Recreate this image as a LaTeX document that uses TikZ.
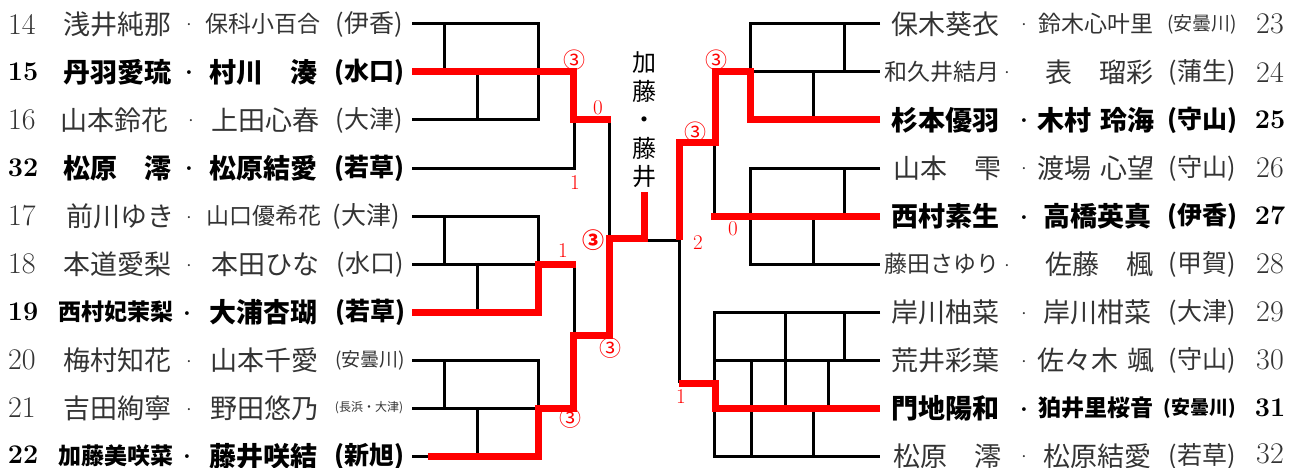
\documentclass[tikz,border=0pt]{standalone}
\usepackage{fontspec}
\usepackage{xcolor}
\usepackage{tikz}
\usetikzlibrary{positioning}
\newfontfamily\jp{Noto Sans CJK JP}

\begin{document}
\begin{tikzpicture}[
    x=1pt, y=-1pt,
    bline/.style={line width=3pt, black, line join=miter},
    rline/.style={line width=7pt, red, line join=miter},
    num/.style={font=\fontsize{30}{30}\selectfont, inner sep=0pt},
    numb/.style={font=\fontsize{27}{27}\selectfont\bfseries, inner sep=0pt},
    sep/.style={font=\fontsize{26}{26}\selectfont, inner sep=0pt, anchor=base, yshift=-10pt},
    nmA/.style={font=\jp\fontsize{27}{27}\selectfont, inner sep=0pt},
    nmB/.style={font=\jp\fontsize{23}{23}\selectfont, inner sep=0pt},
    sch/.style={font=\jp\fontsize{25}{25}\selectfont, inner sep=0pt},
    schs/.style={font=\jp\fontsize{19}{19}\selectfont, inner sep=0pt},
    scht/.style={font=\jp\fontsize{12}{12}\selectfont, inner sep=0pt},
    reg/.style={text=black!80},
    strong/.style={text=black, execute at begin node=\bfseries},
    score/.style={font=\fontsize{21}{21}\selectfont, text=red, inner sep=0pt},
    circ/.style={font=\jp\fontsize{22}{22}\selectfont, text=red, inner sep=0pt}
]
    \useasboundingbox (0,0) rectangle (1301,468);

    % left entries
    \node[num,reg] (n14) at (22,24) {14};
    \node[nmA,reg] (a14) at (117,24) {浅井純那};
    \node[sep,reg] (d14) at (189,24) {·};
    \node[nmB,reg] (b14) at (263,24) {保科小百合};
    \node[sch,reg] (s14) at (369,24) {(伊香)};

    \node[numb] (n15) at (23,72) {15};
    \node[nmA,strong] (a15) at (117,72) {丹羽愛琉};
    \node[sep,strong] (d15) at (189,72) {·};
    \node[nmA,strong] (b15) at (263,72) {村川　湊};
    \node[sch,strong] (s15) at (369,72) {(水口)};

    \node[num,reg] (n16) at (22,120) {16};
    \node[nmA,reg] (a16) at (114,120) {山本鈴花};
    \node[sep,reg] (d16) at (191,120) {·};
    \node[nmA,reg] (b16) at (265,120) {上田心春};
    \node[sch,reg] (s16) at (369,120) {(大津)};

    \node[numb] (n32) at (23,168) {32};
    \node[nmA,strong] (a32) at (117,168) {松原　澪};
    \node[sep,strong] (d32) at (189,168) {·};
    \node[nmA,strong] (b32) at (263,168) {松原結愛};
    \node[sch,strong] (s32) at (369,168) {(若草)};

    \node[num,reg] (n17) at (22,216) {17};
    \node[nmA,reg] (a17) at (120,216) {前川ゆき};
    \node[sep,reg] (d17) at (189,216) {·};
    \node[nmB,reg] (b17) at (264,216) {山口優希花};
    \node[sch,reg] (s17) at (366,216) {(大津)};

    \node[num,reg] (n18) at (22,264) {18};
    \node[nmA,reg] (a18) at (117,264) {本道愛梨};
    \node[sep,reg] (d18) at (189,264) {·};
    \node[nmA,reg] (b18) at (265,264) {本田ひな};
    \node[sch,reg] (s18) at (370,264) {(水口)};

    \node[numb] (n19) at (23,312) {19};
    \node[nmB,strong] (a19) at (116,312) {西村妃茉梨};
    \node[sep,strong] (d19) at (187,312) {·};
    \node[nmA,strong] (b19) at (263,312) {大浦杏瑚};
    \node[sch,strong] (s19) at (370,312) {(若草)};

    \node[num,reg] (n20) at (22,360) {20};
    \node[nmA,reg] (a20) at (117,360) {梅村知花};
    \node[sep,reg] (d20) at (189,360) {·};
    \node[nmA,reg] (b20) at (264,360) {山本千愛};
    \node[schs,reg] (s20) at (370,360) {(安曇川)};

    \node[num,reg] (n21) at (22,408) {21};
    \node[nmA,reg] (a21) at (117,408) {吉田絢寧};
    \node[sep,reg] (d21) at (189,408) {·};
    \node[nmA,reg] (b21) at (264,408) {野田悠乃};
    \node[scht,reg] (s21) at (369,408) {(長浜・大津)};

    \node[numb] (n22) at (23,455) {22};
    \node[nmB,strong] (a22) at (116,456) {加藤美咲菜};
    \node[sep,strong] (d22) at (187,455) {·};
    \node[nmA,strong] (b22) at (263,456) {藤井咲結};
    \node[sch,strong] (s22) at (369,456) {(新旭)};

    % right entries
    \node[nmA,reg] (a23) at (945,24) {保木葵衣};
    \node[sep,reg] (d23) at (1024,24) {·};
    \node[nmB,reg] (b23) at (1096,24) {鈴木心叶里};
    \node[schs,reg] (s23) at (1202,24) {(安曇川)};
    \node[num,reg] (n23) at (1270,24) {23};

    \node[nmB,reg] (a24) at (942,72) {和久井結月};
    \node[sep,reg] (d24) at (1007,72) {·};
    \node[nmA,reg] (b24) at (1099,72) {表　瑠彩};
    \node[sch,reg] (s24) at (1202,72) {(蒲生)};
    \node[num,reg] (n24) at (1270,72) {24};

    \node[nmA,strong] (a25) at (945,120) {杉本優羽};
    \node[sep,strong] (d25) at (1024,120) {·};
    \node[nmA,strong] (b25) at (1096,120) {木村\hspace{0.3em}玲海};
    \node[sch,strong] (s25) at (1202,120) {(守山)};
    \node[numb] (n25) at (1270,120) {25};

    \node[nmA,reg] (a26) at (947,168) {山本　雫};
    \node[sep,reg] (d26) at (1024,168) {·};
    \node[nmA,reg] (b26) at (1096,168) {渡場\hspace{0.3em}心望};
    \node[sch,reg] (s26) at (1202,168) {(守山)};
    \node[num,reg] (n26) at (1270,168) {26};

    \node[nmA,strong] (a27) at (945,216) {西村素生};
    \node[sep,strong] (d27) at (1024,216) {·};
    \node[nmA,strong] (b27) at (1097,216) {高橋英真};
    \node[sch,strong] (s27) at (1202,216) {(伊香)};
    \node[numb] (n27) at (1270,216) {27};

    \node[nmB,reg] (a28) at (942,264) {藤田さゆり};
    \node[sep,reg] (d28) at (1007,264) {·};
    \node[nmA,reg] (b28) at (1099,264) {佐藤　楓};
    \node[sch,reg] (s28) at (1202,264) {(甲賀)};
    \node[num,reg] (n28) at (1270,264) {28};

    \node[nmA,reg] (a29) at (945,312) {岸川柚菜};
    \node[sep,reg] (d29) at (1024,312) {·};
    \node[nmA,reg] (b29) at (1097,312) {岸川柑菜};
    \node[sch,reg] (s29) at (1202,312) {(大津)};
    \node[num,reg] (n29) at (1270,312) {29};

    \node[nmA,reg] (a30) at (945,360) {荒井彩葉};
    \node[sep,reg] (d30) at (1024,360) {·};
    \node[nmA,reg] (b30) at (1096,360) {佐々木\hspace{0.3em}颯};
    \node[sch,reg] (s30) at (1202,360) {(守山)};
    \node[num,reg] (n30) at (1270,360) {30};

    \node[nmA,strong] (a31) at (945,408) {門地陽和};
    \node[sep,strong] (d31) at (1024,408) {·};
    \node[nmB,strong] (b31) at (1096,408) {狛井里桜音};
    \node[schs,strong] (s31) at (1200,408) {(安曇川)};
    \node[numb] (n31) at (1270,408) {31};

    \node[nmA,reg] (a32r) at (947,456) {松原　澪};
    \node[sep,reg] (d32r) at (1024,455) {·};
    \node[nmA,reg] (b32r) at (1097,456) {松原結愛};
    \node[sch,reg] (s32r) at (1202,456) {(若草)};
    \node[num,reg] (n32r) at (1270,454) {32};

    % centre
    \node[font=\jp\fontsize{24}{28.5}\selectfont, align=center, inner sep=0pt] (title) at (644,120) {加\\藤\\・\\藤\\井};

    % left bracket
    \draw[bline] (412,24) -| (538,120) -- (412,120);
    \draw[bline] (412,72) -- (538,72) (444,24) -- (444,72) (477,72) -- (477,120);
    \draw[bline] (412,168) -| (574,120);
    \draw[bline] (609,120) -- (609,238);
    \draw[bline] (412,216) -| (538,312) -- (412,312);
    \draw[bline] (412,264) -- (538,264) (444,216) -- (444,264) (477,264) -- (477,312);
    \draw[bline] (574,264) -- (574,335);
    \draw[bline] (412,360) -| (538,456) -- (412,456);
    \draw[bline] (412,408) -- (538,408) (444,360) -- (444,408) (477,408) -- (477,456);

    % right bracket
    \draw[bline] (644,240) -- (679,240);
    \draw[bline] (880,24) -| (750,120) -- (880,120);
    \draw[bline] (750,72) -- (880,72) (844,24) -- (844,72) (813,72) -- (813,120);
    \draw[bline] (714,143) -- (714,216);
    \draw[bline] (880,168) -| (750,264) -- (880,264);
    \draw[bline] (750,216) -- (880,216) (844,168) -- (844,216) (813,216) -- (813,264);
    \draw[bline] (679,240) -- (679,383);
    \draw[bline] (880,312) -| (714,456) -- (880,456);
    \draw[bline] (714,360) -- (880,360) (714,408) -- (880,408);
    \draw[bline] (785,312) -- (785,408) (844,312) -- (844,360) (751,360) -- (751,456)
        (828,360) -- (828,408) (813,408) -- (813,456);

    % winners
    \draw[rline] (412,72) -- (573,72) -- (573,120) -- (611,120);
    \draw[rline] (412,312) -| (538,264) -- (576,264);
    \draw[rline] (428,456) -| (538,408) -| (573,335) -| (609,238) -| (644,192);
    \draw[rline] (880,120) -| (750,72) -| (715,143) -| (679,240);
    \draw[rline] (880,216) -- (711,216);
    \draw[rline] (679,383) -| (715,408) -- (880,408);

    % scores
    \node[circ] (c1) at (574,60) {③};
    \node[score] (p1) at (598,108) {0};
    \node[score] (p2) at (575,183) {1};
    \node[score] (p3) at (563,251) {1};
    \node[circ,strong,text=red] (c2) at (593,240) {③};
    \node[circ] (c3) at (610,348) {③};
    \node[circ] (c4) at (570,418) {③};
    \node[circ] (c5) at (716,60) {③};
    \node[circ] (c6) at (695,132) {③};
    \node[score] (p4) at (733,229) {0};
    \node[score] (p5) at (698,243) {2};
    \node[score] (p6) at (681,397) {1};
\end{tikzpicture}
\end{document}
